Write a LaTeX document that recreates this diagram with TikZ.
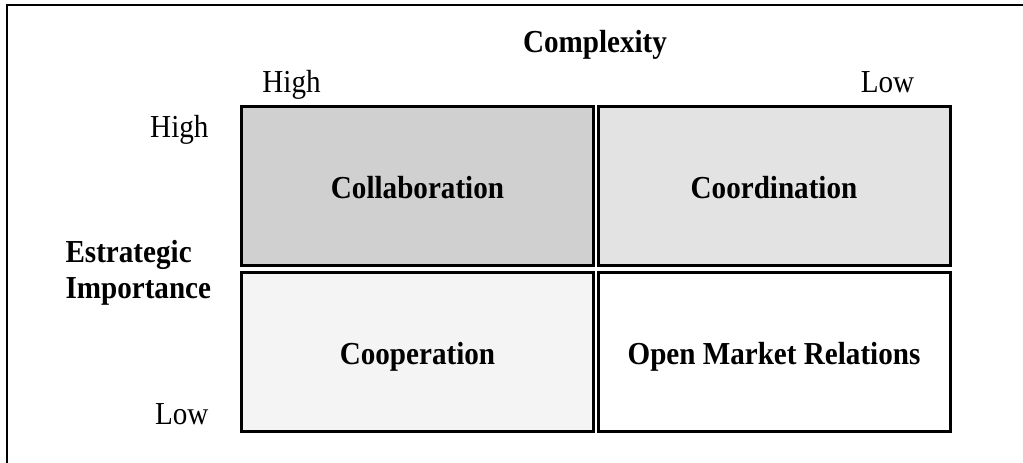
\documentclass[tikz,border=0pt]{standalone}
\usepackage{fontspec}
\setmainfont[FakeStretch=0.91]{Liberation Serif}
\usetikzlibrary{positioning}
\definecolor{shadeA}{HTML}{D0D0D0}
\definecolor{shadeB}{HTML}{E3E3E3}
\definecolor{shadeC}{HTML}{F4F4F4}
\begin{document}
\begin{tikzpicture}[x=1pt,y=-1pt,
		quad/.style={draw,line width=3pt,minimum width=352pt,minimum height=159pt,inner sep=0pt,
			font=\fontsize{32}{36}\selectfont\bfseries,text height=25pt,text depth=0pt},
		lbl/.style={anchor=base,font=\fontsize{32}{36}\selectfont},
		head/.style={lbl,font=\fontsize{32}{36}\selectfont\bfseries}]
		\useasboundingbox (0,0) rectangle (1023,463);
		\draw[line width=2pt] (7,463) -- (7,5) -- (1023,5);
		
		\node[quad,fill=shadeA] (coll) at (417.5,186) {Collaboration};
		\node[quad,fill=shadeB] (coord) at (774,186) {Coordination};
		\node[quad,fill=shadeC] (coop) at (417.5,352) {Cooperation};
		\node[quad,fill=white] (omr) at (774,352) {Open Market Relations};
		
		\node[head] (cplx) at (595,52) {Complexity};
		\node[lbl] (cplxhigh) at (291.5,92) {High};
		\node[lbl] (cplxlow) at (887.5,92) {Low};
		
		\node[lbl,anchor=base east] (imphigh) at (212,137) {High};
		\node[lbl,anchor=base east] (implow) at (212,424) {Low};
		\node[head,anchor=base west,align=left] (imp) at (62,298) {Estrategic\\Importance};
	\end{tikzpicture}
\end{document}
